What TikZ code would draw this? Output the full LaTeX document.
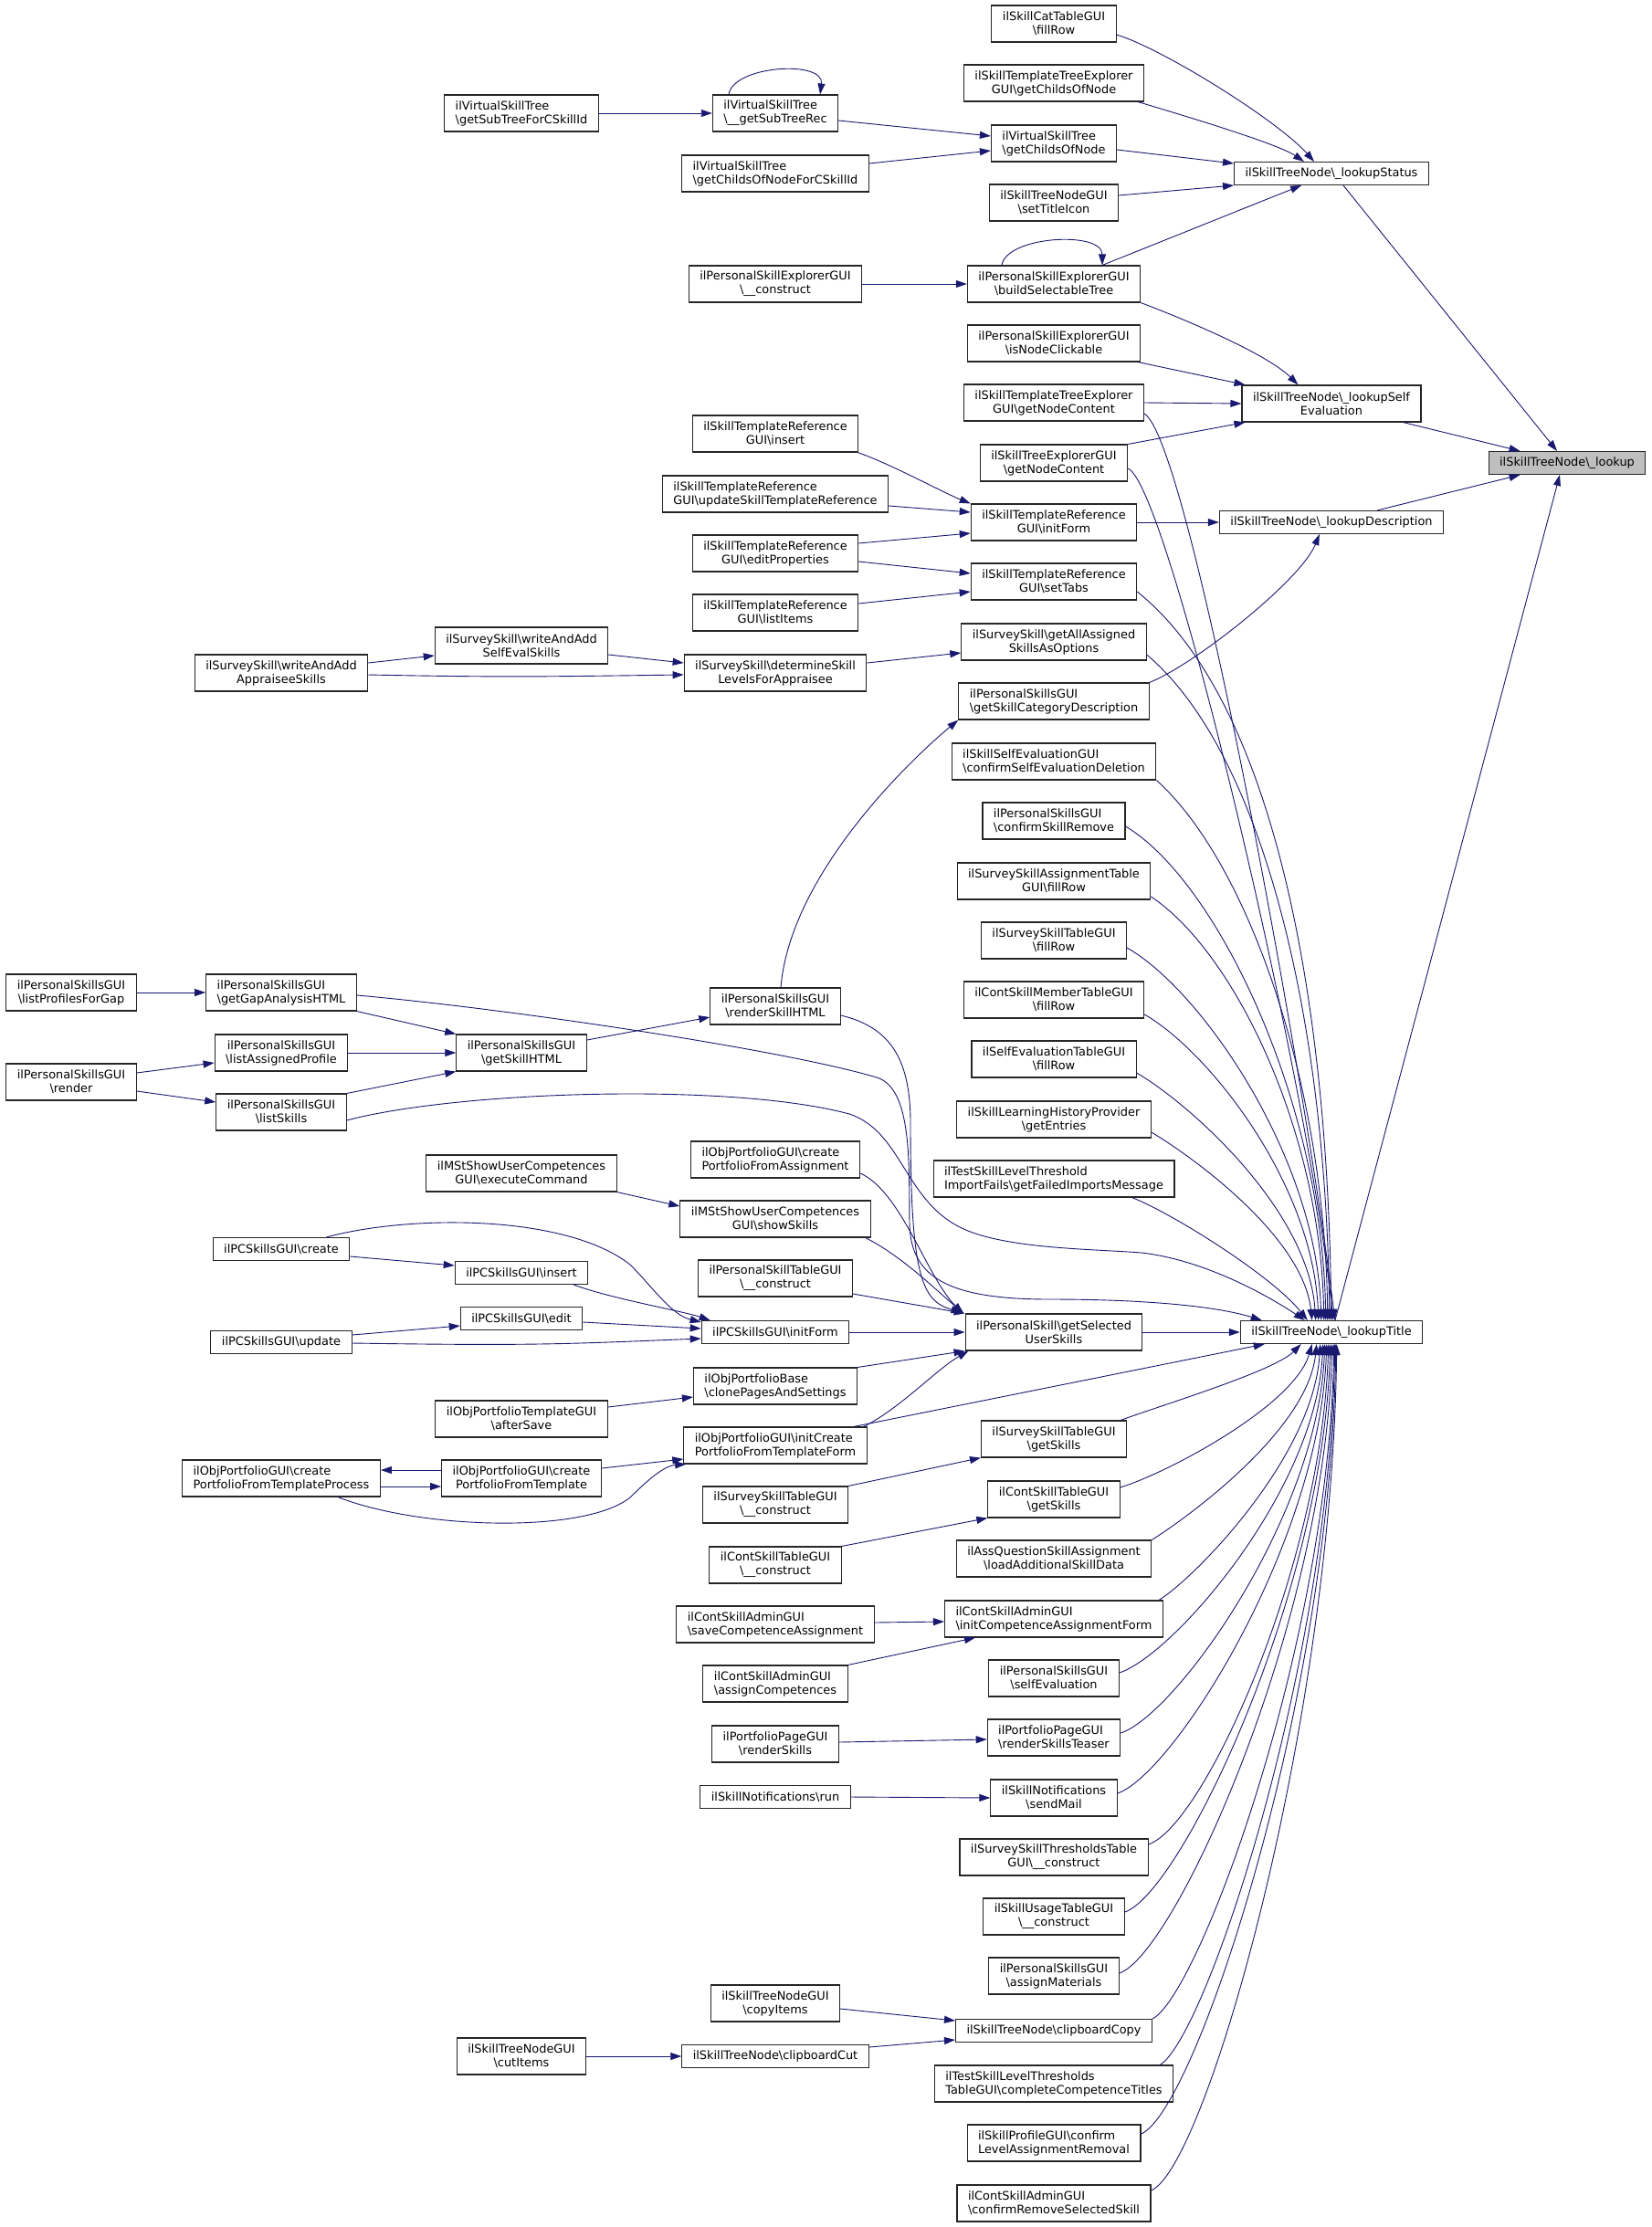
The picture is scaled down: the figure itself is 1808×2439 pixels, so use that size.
\documentclass[tikz,border=0pt]{standalone}
\usepackage{fontspec}
\setmainfont{DejaVu Sans}
\usetikzlibrary{arrows.meta}
\definecolor{edgeblue}{RGB}{25,25,112}
\definecolor{rootgrey}{RGB}{191,191,191}
\newcommand\bsl{\textbackslash}
\newcommand\nodefont{\fontsize{12.9pt}{15pt}\selectfont}
\tikzset{
  fn/.style={draw=black!85, fill=white, line width=1.1pt, font=\nodefont, align=center,
    inner xsep=12pt, inner ysep=2pt, minimum height=40pt},
  one/.style={minimum height=25pt},
  fl/.style={align=left},
  call/.style={draw=edgeblue, line width=0.9pt, -{Triangle[length=12pt,width=8pt]}},
}
\begin{document}
\begin{tikzpicture}[x=1pt,y=1pt]
  % page
  \fill[white] (0,0) rectangle (1808,-2439);

  % the function and its direct callers
  \node[fn,one,fill=rootgrey] (lookup) at (1716,-507) {ilSkillTreeNode\bsl\_lookup};
  \node[fn,one] (status) at (1458,-190) {ilSkillTreeNode\bsl\_lookupStatus};
  \node[fn] (selfeval) at (1458,-442) {ilSkillTreeNode\bsl\_lookupSelf\\Evaluation};
  \node[fn,one] (descr) at (1458,-572) {ilSkillTreeNode\bsl\_lookupDescription};
  \node[fn,one] (title) at (1458,-1459) {ilSkillTreeNode\bsl\_lookupTitle};

  % second column
  \node[fn] (catfill) at (1154,-26) {ilSkillCatTableGUI\\\bsl fillRow};
  \node[fn] (tplchilds) at (1154,-91) {ilSkillTemplateTreeExplorer\\GUI\bsl getChildsOfNode};
  \node[fn,fl] (vchilds) at (1154,-157) {ilVirtualSkillTree\\\bsl getChildsOfNode};
  \node[fn] (titleicon) at (1154,-222) {ilSkillTreeNodeGUI\\\bsl setTitleIcon};
  \node[fn] (buildtree) at (1154,-311) {ilPersonalSkillExplorerGUI\\\bsl buildSelectableTree};
  \node[fn] (clickable) at (1154,-376) {ilPersonalSkillExplorerGUI\\\bsl isNodeClickable};
  \node[fn] (tplcontent) at (1154,-441) {ilSkillTemplateTreeExplorer\\GUI\bsl getNodeContent};
  \node[fn] (treecontent) at (1154,-507) {ilSkillTreeExplorerGUI\\\bsl getNodeContent};
  \node[fn] (tplinit) at (1154,-572) {ilSkillTemplateReference\\GUI\bsl initForm};
  \node[fn] (settabs) at (1154,-637) {ilSkillTemplateReference\\GUI\bsl setTabs};
  \node[fn] (alloptions) at (1154,-703) {ilSurveySkill\bsl getAllAssigned\\SkillsAsOptions};
  \node[fn,fl] (catdescr) at (1154,-768) {ilPersonalSkillsGUI\\\bsl getSkillCategoryDescription};
  \node[fn,fl] (confdel) at (1154,-834) {ilSkillSelfEvaluationGUI\\\bsl confirmSelfEvaluationDeletion};
  \node[fn,fl] (confremove) at (1154,-899) {ilPersonalSkillsGUI\\\bsl confirmSkillRemove};
  \node[fn] (assignfill) at (1154,-965) {ilSurveySkillAssignmentTable\\GUI\bsl fillRow};
  \node[fn] (surveyfill) at (1154,-1030) {ilSurveySkillTableGUI\\\bsl fillRow};
  \node[fn] (memberfill) at (1154,-1095) {ilContSkillMemberTableGUI\\\bsl fillRow};
  \node[fn] (selfevalfill) at (1154,-1160) {ilSelfEvaluationTableGUI\\\bsl fillRow};
  \node[fn] (history) at (1154,-1226) {ilSkillLearningHistoryProvider\\\bsl getEntries};
  \node[fn,fl] (importfails) at (1154,-1291) {ilTestSkillLevelThreshold\\ImportFails\bsl getFailedImportsMessage};
  \node[fn] (selskills) at (1154,-1459) {ilPersonalSkill\bsl getSelected\\UserSkills};
  \node[fn] (surveyget) at (1154,-1576) {ilSurveySkillTableGUI\\\bsl getSkills};
  \node[fn] (contget) at (1154,-1642) {ilContSkillTableGUI\\\bsl getSkills};
  \node[fn] (assq) at (1154,-1707) {ilAssQuestionSkillAssignment\\\bsl loadAdditionalSkillData};
  \node[fn,fl] (initcomp) at (1154,-1773) {ilContSkillAdminGUI\\\bsl initCompetenceAssignmentForm};
  \node[fn] (pselfeval) at (1154,-1838) {ilPersonalSkillsGUI\\\bsl selfEvaluation};
  \node[fn,fl] (teaser) at (1154,-1903) {ilPortfolioPageGUI\\\bsl renderSkillsTeaser};
  \node[fn] (sendmail) at (1154,-1969) {ilSkillNotifications\\\bsl sendMail};
  \node[fn] (thresholds) at (1154,-2034) {ilSurveySkillThresholdsTable\\GUI\bsl\_\_construct};
  \node[fn] (usage) at (1154,-2099) {ilSkillUsageTableGUI\\\bsl\_\_construct};
  \node[fn] (materials) at (1154,-2164) {ilPersonalSkillsGUI\\\bsl assignMaterials};
  \node[fn,one] (clipcopy) at (1154,-2224) {ilSkillTreeNode\bsl clipboardCopy};
  \node[fn,fl] (complete) at (1154,-2282) {ilTestSkillLevelThresholds\\TableGUI\bsl completeCompetenceTitles};
  \node[fn,fl] (levelrem) at (1154,-2347) {ilSkillProfileGUI\bsl confirm\\LevelAssignmentRemoval};
  \node[fn,fl] (remsel) at (1154,-2413) {ilContSkillAdminGUI\\\bsl confirmRemoveSelectedSkill};

  % third column
  \node[fn,fl] (subrec) at (849,-124) {ilVirtualSkillTree\\\bsl\_\_getSubTreeRec};
  \node[fn,fl] (childsforc) at (849,-190) {ilVirtualSkillTree\\\bsl getChildsOfNodeForCSkillId};
  \node[fn] (explconstruct) at (849,-311) {ilPersonalSkillExplorerGUI\\\bsl\_\_construct};
  \node[fn] (tplinsert) at (849,-475) {ilSkillTemplateReference\\GUI\bsl insert};
  \node[fn,fl] (tplupdate) at (849,-541) {ilSkillTemplateReference\\GUI\bsl updateSkillTemplateReference};
  \node[fn] (tpledit) at (849,-606) {ilSkillTemplateReference\\GUI\bsl editProperties};
  \node[fn] (tpllist) at (849,-671) {ilSkillTemplateReference\\GUI\bsl listItems};
  \node[fn] (determine) at (849,-737) {ilSurveySkill\bsl determineSkill\\LevelsForAppraisee};
  \node[fn] (renderhtml) at (849,-1102) {ilPersonalSkillsGUI\\\bsl renderSkillHTML};
  \node[fn,fl] (createassign) at (849,-1270) {ilObjPortfolioGUI\bsl create\\PortfolioFromAssignment};
  \node[fn] (showskills) at (849,-1335) {ilMStShowUserCompetences\\GUI\bsl showSkills};
  \node[fn] (ptableconstruct) at (849,-1400) {ilPersonalSkillTableGUI\\\bsl\_\_construct};
  \node[fn,one] (pcinit) at (849,-1459) {ilPCSkillsGUI\bsl initForm};
  \node[fn,fl] (clonepages) at (849,-1518) {ilObjPortfolioBase\\\bsl clonePagesAndSettings};
  \node[fn,fl] (initcreate) at (849,-1583) {ilObjPortfolioGUI\bsl initCreate\\PortfolioFromTemplateForm};
  \node[fn] (surveyconstruct) at (849,-1648) {ilSurveySkillTableGUI\\\bsl\_\_construct};
  \node[fn] (contconstruct) at (849,-1714) {ilContSkillTableGUI\\\bsl\_\_construct};
  \node[fn,fl] (savecomp) at (849,-1779) {ilContSkillAdminGUI\\\bsl saveCompetenceAssignment};
  \node[fn,fl] (assigncomp) at (849,-1844) {ilContSkillAdminGUI\\\bsl assignCompetences};
  \node[fn] (renderskills) at (849,-1910) {ilPortfolioPageGUI\\\bsl renderSkills};
  \node[fn,one] (run) at (849,-1968) {ilSkillNotifications\bsl run};
  \node[fn] (copyitems) at (849,-2194) {ilSkillTreeNodeGUI\\\bsl copyItems};
  \node[fn,one] (clipcut) at (849,-2252) {ilSkillTreeNode\bsl clipboardCut};

  % fourth column
  \node[fn,fl] (subtreeforc) at (571,-124) {ilVirtualSkillTree\\\bsl getSubTreeForCSkillId};
  \node[fn] (selfevalskills) at (571,-707) {ilSurveySkill\bsl writeAndAdd\\SelfEvalSkills};
  \node[fn] (skillhtml) at (571,-1153) {ilPersonalSkillsGUI\\\bsl getSkillHTML};
  \node[fn] (execcmd) at (571,-1285) {ilMStShowUserCompetences\\GUI\bsl executeCommand};
  \node[fn,one] (pcinsert) at (571,-1394) {ilPCSkillsGUI\bsl insert};
  \node[fn,one] (pcedit) at (571,-1444) {ilPCSkillsGUI\bsl edit};
  \node[fn] (aftersave) at (571,-1554) {ilObjPortfolioTemplateGUI\\\bsl afterSave};
  \node[fn] (fromtpl) at (571,-1619) {ilObjPortfolioGUI\bsl create\\PortfolioFromTemplate};
  \node[fn] (cutitems) at (571,-2252) {ilSkillTreeNodeGUI\\\bsl cutItems};

  % fifth and sixth column
  \node[fn] (appraisee) at (308,-737) {ilSurveySkill\bsl writeAndAdd\\AppraiseeSkills};
  \node[fn,fl] (gaphtml) at (308,-1087) {ilPersonalSkillsGUI\\\bsl getGapAnalysisHTML};
  \node[fn] (assignedprofile) at (308,-1153) {ilPersonalSkillsGUI\\\bsl listAssignedProfile};
  \node[fn] (listskills) at (308,-1218) {ilPersonalSkillsGUI\\\bsl listSkills};
  \node[fn,one] (pccreate) at (308,-1368) {ilPCSkillsGUI\bsl create};
  \node[fn,one] (pcupdate) at (308,-1470) {ilPCSkillsGUI\bsl update};
  \node[fn,fl] (tplprocess) at (308,-1619) {ilObjPortfolioGUI\bsl create\\PortfolioFromTemplateProcess};
  \node[fn] (profilesgap) at (78,-1087) {ilPersonalSkillsGUI\\\bsl listProfilesForGap};
  \node[fn] (render) at (78,-1185) {ilPersonalSkillsGUI\\\bsl render};

  % calls into the lookup
  \draw[call] ([xshift=13pt]status.south) -- ([xshift=-11pt]lookup.north);
  \draw[call] ([xshift=-20pt]selfeval.south east) -- ([xshift=35pt]lookup.north west);
  \draw[call] ([xshift=50pt]descr.north) -- ([xshift=35pt]lookup.south west);
  \draw[call] ([xshift=4pt]title.north) -- ([xshift=-8pt]lookup.south);

  % calls into _lookupStatus
  \draw[call] ([yshift=-12pt]catfill.east) .. controls +(50,-15) and +(-40,45) .. ([xshift=88pt]status.north west);
  \draw[call] ([xshift=-7pt]tplchilds.south east) .. controls +(50,-15) and +(-30,20) .. ([xshift=77pt]status.north west);
  \draw[call] ([yshift=-7pt]vchilds.east) -- ([yshift=11pt]status.west);
  \draw[call] ([yshift=8pt]titleicon.east) -- (status.south west);
  \draw[call] ([xshift=53pt]buildtree.north) -- ([xshift=74pt]status.south west);
  \draw[call] ([xshift=-57pt]buildtree.north) .. controls +(5,32) and +(0,38) .. ([xshift=53pt]buildtree.north);

  % calls into _lookupSelfEvaluation
  \draw[call] (buildtree.south east) .. controls +(40,-15) and +(-35,35) .. ([xshift=62pt]selfeval.north west);
  \draw[call] ([xshift=-3pt]clickable.south east) -- ([xshift=4pt]selfeval.north west);
  \draw[call] (tplcontent.east) -- (selfeval.west);
  \draw[call] (treecontent.north east) -- ([xshift=4pt]selfeval.south west);

  % calls into _lookupDescription
  \draw[call] (tplinit.east) -- (descr.west);
  \draw[call] (catdescr.north east) .. controls +(50,20) and +(-20,-50) .. ([xshift=110pt]descr.south west);

  % virtual tree and explorer
  \draw[call] ([yshift=-8pt]subrec.east) -- ([yshift=8pt]vchilds.west);
  \draw[call] ([yshift=11pt]childsforc.east) -- ([yshift=-8pt]vchilds.west);
  \draw[call] (subtreeforc.east) -- (subrec.west);
  \draw[call] ([xshift=-51pt]subrec.north) .. controls +(5,32) and +(5,38) .. ([xshift=49pt]subrec.north);
  \draw[call] (explconstruct.east) -- (buildtree.west);

  % template reference
  \draw[call] ([xshift=-1pt]tplinsert.south east) .. controls +(35,-12) and +(-30,12) .. (tplinit.north west);
  \draw[call] ([yshift=-13pt]tplupdate.east) -- ([yshift=11pt]tplinit.west);
  \draw[call] ([yshift=11pt]tpledit.east) -- ([yshift=-12pt]tplinit.west);
  \draw[call] ([yshift=-9pt]tpledit.east) -- ([yshift=9pt]settabs.west);
  \draw[call] ([yshift=10pt]tpllist.east) -- ([yshift=-11pt]settabs.west);

  % survey skills
  \draw[call] ([yshift=-10pt]selfevalskills.east) -- ([yshift=11pt]determine.west);
  \draw[call] ([yshift=-2pt]appraisee.east) .. controls +(150,-3) and +(-150,-2) .. ([yshift=-2pt]determine.west);
  \draw[call] ([yshift=11pt]appraisee.east) -- ([yshift=-11pt]selfevalskills.west);
  \draw[call] ([yshift=11pt]determine.east) -- ([yshift=-12pt]alloptions.west);

  % personal skills GUI
  \draw[call] ([xshift=6pt]renderhtml.north) .. controls +(10,120) and +(-60,-50) .. (catdescr.south west);
  \draw[call] (gaphtml.south east) -- (skillhtml.north west);
  \draw[call] (assignedprofile.east) -- (skillhtml.west);
  \draw[call] (listskills.north east) -- (skillhtml.south west);
  \draw[call] (profilesgap.east) -- (gaphtml.west);
  \draw[call] ([yshift=10pt]render.east) -- ([yshift=-11pt]assignedprofile.west);
  \draw[call] ([yshift=-10pt]render.east) -- ([yshift=11pt]listskills.west);
  \draw[call] ([yshift=14pt]skillhtml.east) -- ([yshift=-12pt]renderhtml.west);

  % calls into getSelectedUserSkills
  \draw[call] ([yshift=-10pt]renderhtml.east) .. controls (975,-1125) and (997,-1160) .. (997,-1230)
    .. controls (997,-1400) and (1010,-1425) .. ([xshift=-3pt,yshift=1pt]selskills.north west);
  \draw[call] ([yshift=-15pt]createassign.east) .. controls +(45,-20) and +(-40,40) .. ([xshift=-2pt]selskills.north west);
  \draw[call] ([xshift=-6pt]showskills.south east) .. controls +(40,-20) and +(-30,25) .. ([xshift=-1pt]selskills.north west);
  \draw[call] ([yshift=-17pt]ptableconstruct.east) -- (selskills.north west);
  \draw[call] (pcinit.east) -- (selskills.west);
  \draw[call] (clonepages.north east) -- (selskills.south west);
  \draw[call] ([xshift=-4pt]initcreate.north east) .. controls +(40,20) and +(-35,-20) .. ([xshift=4pt]selskills.south west);
  \draw[call] (selskills.east) -- (title.west);

  % page content skills
  \draw[call] (execcmd.south east) -- ([yshift=14pt]showskills.west);
  \draw[call] ([yshift=-8pt]pccreate.east) -- ([yshift=8pt]pcinsert.west);
  \draw[call] ([xshift=-26pt]pccreate.north east) .. controls (450,-1330) and (620,-1330) .. (690,-1385)
    .. controls (715,-1410) and (735,-1440) .. ([yshift=-2pt]pcinit.north west);
  \draw[call] ([xshift=-16pt]pcinsert.south east) .. controls +(40,-15) and +(-30,10) .. ([xshift=10pt]pcinit.north west);
  \draw[call] ([yshift=-4pt]pcedit.east) -- ([yshift=4pt]pcinit.west);
  \draw[call] ([yshift=8pt]pcupdate.east) -- ([yshift=-8pt]pcedit.west);
  \draw[call] ([yshift=-1pt]pcupdate.east) .. controls +(200,-3) and +(-150,-6) .. ([yshift=-7pt]pcinit.west);

  % portfolio
  \draw[call] ([yshift=13pt]aftersave.east) -- ([yshift=-12pt]clonepages.west);
  \draw[call] ([yshift=11pt]fromtpl.east) -- ([yshift=-15pt]initcreate.west);
  \draw[call] ([yshift=9pt]fromtpl.west) -- ([yshift=9pt]tplprocess.east);
  \draw[call] ([yshift=-9pt]tplprocess.east) -- ([yshift=-9pt]fromtpl.west);
  \draw[call] ([xshift=62pt]tplprocess.south) .. controls (460,-1675) and (640,-1680) .. (690,-1640)
    .. controls (715,-1615) and (730,-1605) .. ([xshift=3pt]initcreate.south west);
  \draw[call] ([xshift=-15pt]initcreate.north east) -- ([xshift=27pt]title.south west);

  % remaining short calls
  \draw[call] (surveyconstruct.north east) -- (surveyget.south west);
  \draw[call] (contconstruct.north east) -- (contget.south west);
  \draw[call] ([yshift=2pt]savecomp.east) -- ([yshift=-3pt]initcomp.west);
  \draw[call] (assigncomp.north east) -- ([xshift=34pt]initcomp.south west);
  \draw[call] ([yshift=2pt]renderskills.east) -- ([yshift=-2pt]teaser.west);
  \draw[call] (run.east) -- (sendmail.west);
  \draw[call] ([yshift=-6pt]copyitems.east) -- ([yshift=11pt]clipcopy.west);
  \draw[call] ([yshift=10pt]clipcut.east) -- ([yshift=-10pt]clipcopy.west);
  \draw[call] (cutitems.east) -- (clipcut.west);

  % long calls into _lookupTitle from above
  \draw[call] ([yshift=-12pt]tplcontent.east) .. controls +(50,-30) and +(-30,250) .. ([xshift=104pt]title.north west);
  \draw[call] ([yshift=-6pt]treecontent.east) .. controls +(45,-20) and +(-25,250) .. ([xshift=102pt]title.north west);
  \draw[call] ([yshift=-11pt]settabs.east) .. controls +(150,-120) and +(-3,350) .. ([xshift=100pt]title.north west);
  \draw[call] ([yshift=-14pt]alloptions.east) .. controls +(130,-110) and +(-3,320) .. ([xshift=98pt]title.north west);
  \draw[call] (confdel.south east) .. controls +(100,-90) and +(-3,260) .. ([xshift=96pt]title.north west);
  \draw[call] ([yshift=-6pt]confremove.east) .. controls +(100,-60) and +(-4,240) .. ([xshift=94pt]title.north west);
  \draw[call] ([yshift=-17pt]assignfill.east) .. controls +(90,-60) and +(-4,210) .. ([xshift=92pt]title.north west);
  \draw[call] ([yshift=-8pt]surveyfill.east) .. controls +(80,-45) and +(-5,180) .. ([xshift=89pt]title.north west);
  \draw[call] ([yshift=-16pt]memberfill.east) .. controls +(70,-40) and +(-6,150) .. ([xshift=86pt]title.north west);
  \draw[call] ([yshift=-15pt]selfevalfill.east) .. controls +(60,-35) and +(-8,120) .. ([xshift=83pt]title.north west);
  \draw[call] ([yshift=-14pt]history.east) .. controls +(50,-30) and +(-10,90) .. ([xshift=79pt]title.north west);
  \draw[call] ([xshift=-47pt]importfails.south east) .. controls +(40,-15) and +(-40,50) .. ([xshift=74pt]title.north west);
  \draw[call] ([yshift=-9pt]listskills.east) .. controls (500,-1195) and (800,-1185) .. (930,-1220)
    .. controls (990,-1240) and (990,-1320) .. (1060,-1348)
    .. controls (1110,-1368) and (1200,-1368) .. (1250,-1372)
    .. controls (1320,-1380) and (1390,-1420) .. ([xshift=71pt]title.north west);
  \draw[call] ([yshift=-3pt]gaphtml.east) .. controls (560,-1105) and (860,-1150) .. (960,-1180)
    .. controls (1000,-1192) and (995,-1280) .. (996,-1340)
    .. controls (997,-1400) and (1040,-1423) .. (1150,-1423)
    .. controls (1250,-1423) and (1330,-1430) .. ([xshift=24pt]title.north west);

  % long calls into _lookupTitle from below
  \draw[call] ([xshift=-7pt]surveyget.north east) .. controls +(40,15) and +(-30,-30) .. ([xshift=67pt]title.south west);
  \draw[call] ([yshift=13pt]contget.east) .. controls +(50,15) and +(-20,-68) .. ([xshift=79pt]title.south west);
  \draw[call] (assq.north east) .. controls +(40,25) and +(-10,-94) .. ([xshift=84pt]title.south west);
  \draw[call] ([xshift=-5pt]initcomp.north east) .. controls +(40,25) and +(-8,-124) .. ([xshift=88pt]title.south west);
  \draw[call] ([yshift=6pt]pselfeval.east) .. controls +(60,20) and +(-8,-160) .. ([xshift=91pt]title.south west);
  \draw[call] ([yshift=5pt]teaser.east) .. controls +(60,20) and +(-8,-190) .. ([xshift=93pt]title.south west);
  \draw[call] ([yshift=5pt]sendmail.east) .. controls +(60,20) and +(-8,-220) .. ([xshift=95pt]title.south west);
  \draw[call] ([yshift=14pt]thresholds.east) .. controls +(60,20) and +(-8,-245) .. ([xshift=97pt]title.south west);
  \draw[call] ([yshift=5pt]usage.east) .. controls +(60,20) and +(-8,-277) .. ([xshift=99pt]title.south west);
  \draw[call] ([yshift=3pt]materials.east) .. controls +(60,20) and +(-8,-307) .. ([xshift=101pt]title.south west);
  \draw[call] (clipcopy.north east) .. controls +(50,25) and +(-6,-330) .. ([xshift=103pt]title.south west);
  \draw[call] ([xshift=-15pt]complete.north east) .. controls +(50,30) and +(-6,-353) .. ([xshift=104pt]title.south west);
  \draw[call] ([yshift=10pt]levelrem.east) .. controls +(60,25) and +(-5,-387) .. ([xshift=105pt]title.south west);
  \draw[call] ([yshift=14pt]remsel.east) .. controls +(60,25) and +(-5,-415) .. ([xshift=106pt]title.south west);
\end{tikzpicture}
\end{document}
